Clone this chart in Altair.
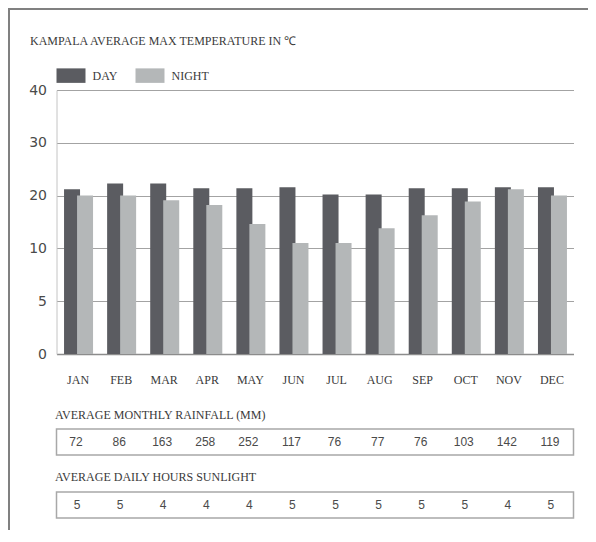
import altair as alt
import pandas as pd

# ---------------- data ----------------
months = ["JAN", "FEB", "MAR", "APR", "MAY", "JUN", "JUL", "AUG", "SEP", "OCT", "NOV", "DEC"]
day_temp = [21.2, 22.3, 22.3, 21.4, 21.4, 21.6, 20.2, 20.2, 21.4, 21.4, 21.6, 21.6]
night_temp = [20.0, 20.0, 19.1, 18.2, 14.6, 11.0, 11.0, 13.8, 16.3, 18.9, 21.2, 20.0]
rainfall = [72, 86, 163, 258, 252, 117, 76, 77, 76, 103, 142, 119]
sunlight = [5, 5, 4, 4, 4, 5, 5, 5, 5, 5, 4, 5]
series = ["DAY", "NIGHT"]
series_colors = ["#5b5c61", "#b4b7b8"]
y_ticks = [0, 5, 10, 20, 30, 40]

title_text = "KAMPALA AVERAGE MAX TEMPERATURE IN \u2103"
rain_title = "AVERAGE MONTHLY RAINFALL (MM)"
sun_title = "AVERAGE DAILY HOURS SUNLIGHT"

# ---------------- tables ----------------
temp_df = pd.DataFrame({
    "month": months * 2,
    "series": ["DAY"] * len(months) + ["NIGHT"] * len(months),
    "temp": day_temp + night_temp,
})
table_df = pd.DataFrame({"month": months, "rain": rainfall, "sun": sunlight})
one = pd.DataFrame({"k": [0]})

W, H = 517, 264
SERIF = "Liberation Serif"
TXT = "#3a3a3a"

x_enc = alt.X(
    "month:N",
    scale=alt.Scale(domain=months, paddingInner=0, paddingOuter=0),
    axis=alt.Axis(title=None, labelAngle=0, labelFont=SERIF, labelFontSize=12,
                  labelColor=TXT, labelPadding=20, ticks=False, grid=False,
                  domainColor="#8c8c8c", domainWidth=1.5),
)
y_scale = alt.Scale(domain=y_ticks, range=[H - i * H / 5 for i in range(6)], nice=False, zero=False)
y_axis = alt.Axis(title=None, values=y_ticks, labelFont="DejaVu Sans", labelFontSize=14,
                  labelColor="#4a4a4a", labelPadding=10, ticks=False,
                  domainColor="#c4c4c4", gridColor="#a3a3a3", gridWidth=1)
color_enc = alt.Color(
    "series:N",
    scale=alt.Scale(domain=series, range=series_colors),
    legend=alt.Legend(title=None, orient="none", legendX=0, legendY=-29, direction="horizontal",
                      symbolType="M-1,-0.5H1V0.5H-1Z", symbolSize=841, symbolStrokeWidth=0,
                      symbolOpacity=1, labelFont=SERIF, labelFontSize=12, labelColor=TXT,
                      labelOffset=7, columnPadding=18),
)

base = alt.Chart(temp_df)
day_bars = base.transform_filter("datum.series == 'DAY'").mark_bar(width=16, xOffset=-6).encode(
    x=x_enc, y=alt.Y("temp:Q", scale=y_scale, axis=y_axis), color=color_enc)
night_bars = base.transform_filter("datum.series == 'NIGHT'").mark_bar(width=16, xOffset=7).encode(
    x=x_enc, y=alt.Y("temp:Q", scale=y_scale, axis=y_axis), color=color_enc)

frame_top = alt.Chart(one).mark_rule(color="#808080", strokeWidth=2).encode(
    x=alt.value(-48), x2=alt.value(540), y=alt.value(-81))
frame_left = alt.Chart(one).mark_rule(color="#808080", strokeWidth=2).encode(
    x=alt.value(-47.5), y=alt.value(-82), y2=alt.value(470))

title = alt.Chart(one).mark_text(align="left", baseline="middle", font=SERIF, fontSize=12,
                                 color=TXT, text=title_text).encode(
    x=alt.value(-26.5), y=alt.value(-49))

rain_head = alt.Chart(one).mark_text(align="left", baseline="middle", font=SERIF, fontSize=12,
                                     color=TXT, text=rain_title).encode(
    x=alt.value(-1.5), y=alt.value(325))
rain_box = alt.Chart(one).mark_rect(fillOpacity=0, stroke="#a8a8a8", strokeWidth=1.5).encode(
    x=alt.value(0), x2=alt.value(W), y=alt.value(339), y2=alt.value(365))
rain_vals = alt.Chart(table_df).mark_text(baseline="middle", font="Liberation Sans", fontSize=12,
                                          color="#4a4a4a", dx=-2).encode(
    x=x_enc, y=alt.value(352), text="rain:Q")

sun_head = alt.Chart(one).mark_text(align="left", baseline="middle", font=SERIF, fontSize=12,
                                    color=TXT, text=sun_title).encode(
    x=alt.value(-1.5), y=alt.value(387))
sun_box = alt.Chart(one).mark_rect(fillOpacity=0, stroke="#a8a8a8", strokeWidth=1.5).encode(
    x=alt.value(0), x2=alt.value(W), y=alt.value(402), y2=alt.value(428))
sun_vals = alt.Chart(table_df).mark_text(baseline="middle", font="Liberation Sans", fontSize=12,
                                         color="#4a4a4a", dx=-1).encode(
    x=x_enc, y=alt.value(415), text="sun:Q")

chart = alt.layer(
    day_bars, night_bars, frame_top, frame_left, title,
    rain_head, rain_box, rain_vals, sun_head, sun_box, sun_vals,
).properties(
    width=W, height=H,
    autosize=alt.AutoSizeParams(type="none"),
    padding={"left": 48.5, "top": 82, "right": 14, "bottom": 176},
    background="white",
).configure_view(stroke=None)

chart.save("out.html", embed_options={"renderer": "svg", "actions": False})
